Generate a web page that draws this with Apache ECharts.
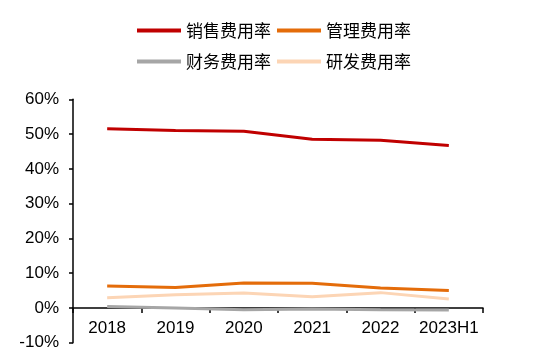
<!DOCTYPE html>
<html><head><meta charset="utf-8">
<script src="https://cdn.jsdelivr.net/npm/echarts@6/dist/echarts.min.js"></script>
<style>html,body{margin:0;padding:0;background:#fff}#c{width:554px;height:363px}</style>
</head><body><div id="c"></div>
<script>
var categories = ['2018','2019','2020','2021','2022','2023H1'];
var seriesNames = ['销售费用率','管理费用率','财务费用率','研发费用率'];
var sales = [51.5, 51.0, 50.8, 48.5, 48.2, 46.7];
var admin = [6.3, 5.9, 7.2, 7.1, 5.7, 5.0];
var finance = [0.4, 0.0, -0.5, -0.3, -0.5, -0.6];
var rnd = [2.9, 3.8, 4.3, 3.2, 4.4, 2.6];
var yTicks = [-10, 0, 10, 20, 30, 40, 50, 60];

var colors = ['#C00000', '#E46C0A', '#A6A6A6', '#FCD5B5'];
var dataArr = [sales, admin, finance, rnd];
var gridTop = 99.3, gridBottom = 20.3, H = 363;
var plotH = H - gridTop - gridBottom;
var yMin = yTicks[0], yMax = yTicks[yTicks.length-1];
var zeroOffset = -plotH * (0 - yMin) / (yMax - yMin);
var chart = echarts.init(document.getElementById('c'));
var legendText = {fontFamily: 'Noto Sans CJK SC', fontSize: 17, color: '#000'};
chart.setOption({
  animation: false,
  legend: [
    {data: [seriesNames[0], seriesNames[1]], icon: 'rect', left: 132, top: 17, itemWidth: 44, itemHeight: 4, itemGap: 6, textStyle: legendText},
    {data: [seriesNames[2], seriesNames[3]], icon: 'rect', left: 132, top: 48, itemWidth: 44, itemHeight: 4, itemGap: 6, textStyle: legendText}
  ],
  grid: {left: 73, right: 71, top: gridTop, bottom: gridBottom, containLabel: false, outerBoundsMode: 'none'},
  xAxis: {
    type: 'category', data: categories, boundaryGap: true, position: 'bottom', offset: zeroOffset,
    axisLine: {onZero: false, lineStyle: {color: '#000', width: 1.5}},
    axisTick: {show: true, inside: false, length: 5, lineStyle: {color: '#000', width: 1.5}},
    axisLabel: {fontFamily: 'Liberation Sans', fontSize: 17, color: '#000', margin: 12, interval: 0}
  },
  yAxis: {
    type: 'value', min: yMin, max: yMax, interval: 10,
    splitLine: {show: false},
    axisLine: {show: true, lineStyle: {color: '#000', width: 1.5}},
    axisTick: {show: true, length: 4, lineStyle: {color: '#000', width: 1.5}},
    axisLabel: {fontFamily: 'Liberation Sans', fontSize: 17, color: '#000', margin: 14, formatter: function(v){return v + '%';}}
  },
  series: seriesNames.map(function(n, i){
    return {name: n, type: 'line', data: dataArr[i], symbol: 'none', smooth: false,
      z: [4,3,1,2][i],
      itemStyle: {color: colors[i]}, lineStyle: {color: colors[i], width: 3}};
  })
});
</script></body></html>
